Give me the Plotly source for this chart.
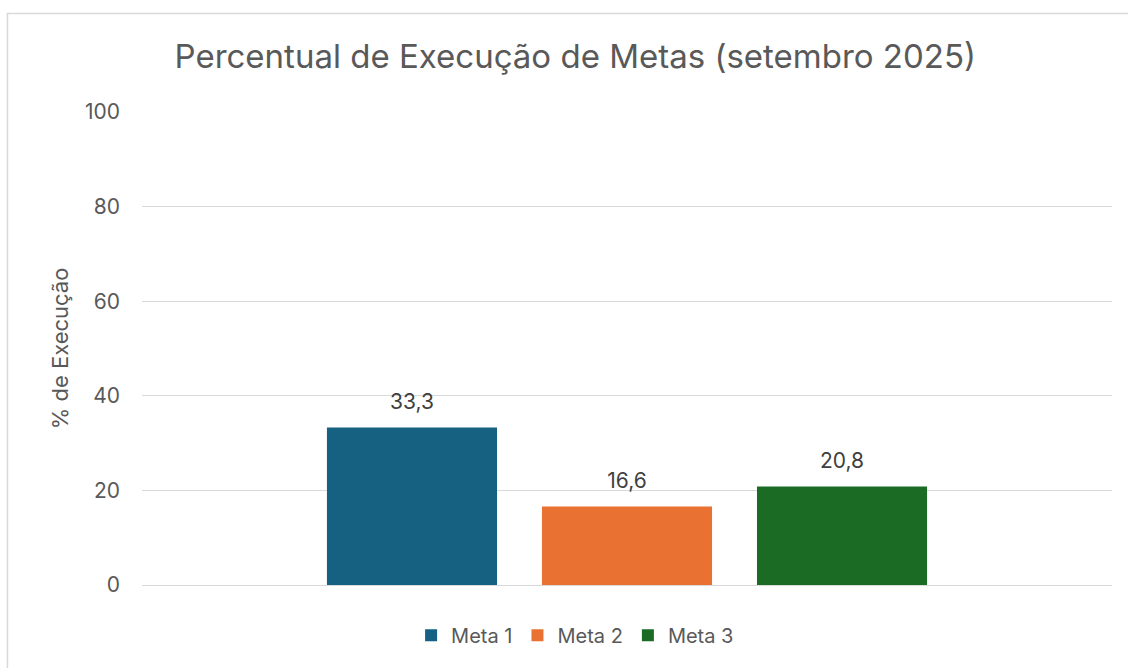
import plotly.graph_objects as go

series = ["Meta 1", "Meta 2", "Meta 3"]
values = [33.3, 16.6, 20.8]
colors = ["#166082", "#E97132", "#1B6B24"]
category = [""]
y_ticks = [0, 20, 40, 60, 80, 100]

FONT = "Inter, Open Sans, sans-serif"

fig = go.Figure()
for name, v, c in zip(series, values, colors):
    fig.add_trace(go.Bar(
        name=name, x=category, y=[v], marker=dict(color=c, line=dict(width=0)),
        offsetgroup=name,
    ))
for name, v in zip(series, values):
    fig.add_trace(go.Scatter(
        x=category, y=[v], mode="markers+text", offsetgroup=name,
        marker=dict(size=20, opacity=0), showlegend=False, cliponaxis=False,
        texttemplate="%{y:.1f}", textposition="top center",
        textfont=dict(size=21, color="#404040", family=FONT), hoverinfo="skip",
    ))

fig.update_layout(
    width=1128, height=668,
    separators=",.",
    barmode="group", bargap=0.335, bargroupgap=0.209,
    scattermode="group", scattergap=0.335,
    paper_bgcolor="white", plot_bgcolor="white",
    margin=dict(l=142, r=16, t=112, b=83),
    font=dict(family=FONT, color="#595959", size=21),
    title=dict(text="Percentual de Execução de Metas (setembro 2025)",
               x=0.51, xanchor="center", y=0.915, yanchor="middle",
               font=dict(size=33, color="#595959", family=FONT)),
    xaxis=dict(showticklabels=False, showline=False, showgrid=False, zeroline=False),
    yaxis=dict(range=[0, 100], tickvals=y_ticks, showgrid=True, gridcolor="#D9D9D9",
               gridwidth=1.2, zeroline=True, zerolinecolor="#D9D9D9", zerolinewidth=1.2,
               showline=False, ticks="", ticklabelstandoff=21,
               tickfont=dict(size=21, color="#595959"),
               title=dict(text="% de Execução", standoff=10,
                          font=dict(size=22, color="#595959"))),
    legend=dict(orientation="h", x=0.4465, xanchor="center", y=-0.106, yanchor="middle",
                font=dict(size=20, color="#595959"), itemwidth=30,
                bgcolor="rgba(0,0,0,0)"),
    showlegend=True,
)

fig.add_shape(type="rect", xref="paper", yref="paper",
              x0=-0.1387, x1=1.2, y0=-0.4, y1=1.2082,
              line=dict(color="#D9D9D9", width=1.5), fillcolor="rgba(0,0,0,0)", layer="below")

fig.write_html("out.html", config={"displayModeBar": False},
               post_script="document.body.style.margin='0';document.body.style.overflow='hidden';")
